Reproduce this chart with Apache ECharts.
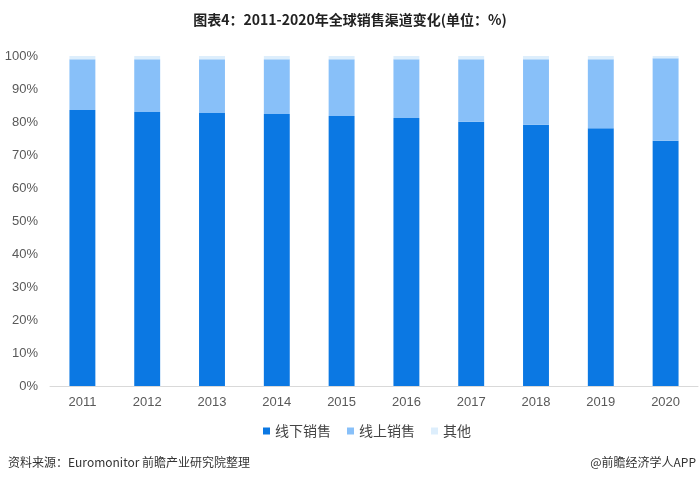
<!DOCTYPE html>
<html>
<head>
<meta charset="utf-8">
<script src="https://cdn.jsdelivr.net/npm/echarts@6/dist/echarts.min.js"></script>
<style>
  html, body { margin: 0; padding: 0; background: #fff; }
  #chart { width: 700px; height: 483px; }
</style>
</head>
<body>
<div id="chart"></div>
<script>
  // 年份
  var years = ['2011', '2012', '2013', '2014', '2015', '2016', '2017', '2018', '2019', '2020'];
  // 各渠道占比 (%)
  var offline = [83.6, 83.0, 82.7, 82.4, 81.8, 81.2, 80.1, 79.2, 78.1, 74.3];
  var online = [15.4, 16.0, 16.3, 16.6, 17.2, 17.8, 18.9, 19.8, 20.9, 25.0];
  var other = [1.0, 1.0, 1.0, 1.0, 1.0, 1.0, 1.0, 1.0, 1.0, 0.7];
  var seriesNames = ['线下销售', '线上销售', '其他'];
  var colors = ['#0b78e3', '#88c0f9', '#ddeefc'];

  var chart = echarts.init(document.getElementById('chart'));

  var option = {
    animation: false,
    color: colors,
    title: {
      text: '图表4：2011-2020年全球销售渠道变化(单位：%)',
      left: 'center',
      top: 8,
      textStyle: { fontSize: 14, fontWeight: 'bold', color: '#222', fontFamily: 'Noto Sans CJK SC' }
    },
    grid: { left: 50, right: 2, top: 56, bottom: 97 },
    legend: {
      bottom: 40,
      left: 258,
      itemWidth: 7,
      itemHeight: 7,
      itemGap: 16,
      icon: 'rect',
      textStyle: { fontSize: 14, color: '#444', fontFamily: 'Noto Sans CJK SC' },
      data: seriesNames
    },
    xAxis: {
      type: 'category',
      data: years,
      axisTick: { show: false },
      axisLine: { lineStyle: { color: '#d9d9d9' } },
      axisLabel: { fontSize: 13, color: '#595959', margin: 10, fontFamily: 'Liberation Sans' }
    },
    yAxis: {
      type: 'value',
      min: 0,
      max: 100,
      interval: 10,
      axisLine: { show: false },
      axisTick: { show: false },
      splitLine: { show: false },
      axisLabel: { formatter: '{value}%', fontSize: 13, color: '#595959', margin: 12, fontFamily: 'Liberation Sans' }
    },
    series: [
      { name: seriesNames[0], type: 'bar', stack: 'all', barWidth: '40%', data: offline },
      { name: seriesNames[1], type: 'bar', stack: 'all', barWidth: '40%', data: online },
      { name: seriesNames[2], type: 'bar', stack: 'all', barWidth: '40%', data: other }
    ],
    graphic: [
      {
        type: 'text', left: 8, top: 456,
        style: { text: '资料来源：Euromonitor 前瞻产业研究院整理', fontSize: 12, fill: '#333', fontFamily: 'Noto Sans CJK SC' }
      },
      {
        type: 'text', right: 4, top: 456,
        style: { text: '@前瞻经济学人APP', fontSize: 12, fill: '#333', fontFamily: 'Noto Sans CJK SC' }
      }
    ]
  };

  chart.setOption(option);
</script>
</body>
</html>
